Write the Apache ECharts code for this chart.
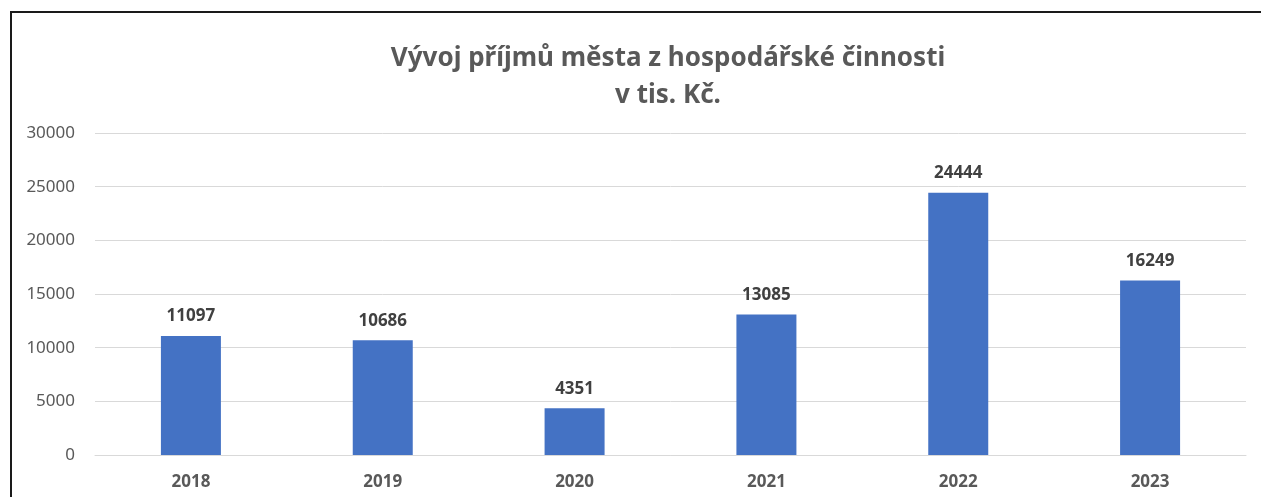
<!DOCTYPE html>
<html><head><meta charset="utf-8">
<script src="https://cdn.jsdelivr.net/npm/echarts@6/dist/echarts.min.js"></script>
<style>
html,body{margin:0;padding:0;background:#fff;overflow:hidden;}
#c{width:1261px;height:497px;position:absolute;left:0;top:0;}
</style></head>
<body>
<div id="c"></div>
<script>
const categories = ['2018','2019','2020','2021','2022','2023'];
const values = [11097, 10686, 4351, 13085, 24444, 16249];
const titleLines = ['Vývoj příjmů města z hospodářské činnosti', 'v tis. Kč.'];

const chart = echarts.init(document.getElementById('c'));
chart.setOption({
  animation:false,
  graphic:[{
    type:'polyline', silent:true,
    shape:{points:[[11,510],[11,12],[1280,12]]},
    style:{stroke:'#1a1a1a', lineWidth:2, fill:null}
  }],
  title:{
    text: titleLines.join('\n'),
    left: 663, top: 35, textAlign:'center',
    textStyle:{fontFamily:'Noto Sans', fontWeight:'bold', fontSize:26, color:'#595959', lineHeight:37}
  },
  grid:{left:95, right:15, top:133, bottom:42, containLabel:false},
  xAxis:{
    type:'category', data:categories,
    axisLine:{show:true, lineStyle:{color:'#d9d9d9', width:1}},
    axisTick:{show:false},
    axisLabel:{fontFamily:'Noto Sans', fontWeight:'bold', fontSize:17, color:'#595959', margin:19}
  },
  yAxis:{
    type:'value', min:0, max:30000, interval:5000,
    axisLine:{show:false}, axisTick:{show:false},
    splitLine:{lineStyle:{color:'#d9d9d9', width:1}},
    axisLabel:{fontFamily:'Noto Sans', fontSize:17, color:'#595959', margin:20, formatter:function(v){return String(v);}}
  },
  series:[{
    type:'bar', data:values, barWidth:60,
    itemStyle:{color:'#4472C4'},
    label:{show:true, position:'top', distance:11, fontFamily:'Noto Sans', fontWeight:'bold', fontSize:17, color:'#404040'}
  }]
});
</script>
</body></html>
